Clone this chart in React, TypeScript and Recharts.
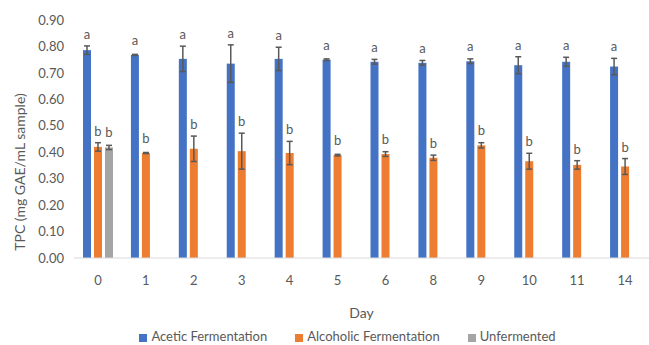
import React from "react"
import { BarChart, Bar, XAxis, YAxis, ErrorBar, Legend } from "recharts"

// TPC over fermentation time, mean ± SD
const days = ["0", "1", "2", "3", "4", "5", "6", "8", "9", "10", "11", "14"]
const acetic = [0.786, 0.768, 0.753, 0.735, 0.753, 0.75, 0.742, 0.738, 0.744, 0.729, 0.742, 0.724]
const aceticSd = [0.016, 0.002, 0.048, 0.071, 0.044, 0.003, 0.009, 0.009, 0.009, 0.032, 0.017, 0.031]
const alcoholic = [0.42, 0.397, 0.413, 0.404, 0.397, 0.389, 0.393, 0.379, 0.426, 0.366, 0.352, 0.346]
const alcoholicSd = [0.016, 0.002, 0.048, 0.068, 0.044, 0.003, 0.009, 0.01, 0.01, 0.03, 0.016, 0.03]
const unfermented = [0.418, null, null, null, null, null, null, null, null, null, null, null]
const unfermentedSd = [0.008, null, null, null, null, null, null, null, null, null, null, null]
const yTicks = [0, 0.1, 0.2, 0.3, 0.4, 0.5, 0.6, 0.7, 0.8, 0.9]

const rows = days.map((day, i) => ({
  day,
  acetic: acetic[i],
  aceticSd: aceticSd[i],
  alcoholic: alcoholic[i],
  alcoholicSd: alcoholicSd[i],
  unfermented: unfermented[i],
  unfermentedSd: unfermentedSd[i],
}))

const TEXT = "#595959"
const FONT = "Lato, 'Liberation Sans', sans-serif"

// bar with its significance letter sitting above the error bar
function letterBar(valueKey: string, sdKey: string, letter: string) {
  return (props: any) => {
    const { x, y, width, height, fill, payload } = props
    const v = payload[valueKey]
    if (v == null || !height) return null
    const pxPerUnit = height / v
    const errTop = y - (payload[sdKey] || 0) * pxPerUnit
    const base = Math.min(errTop - 7, y - 10)
    return (
      <g>
        <rect x={x} y={y} width={width} height={height} fill={fill} />
        <text x={x + width / 2} y={base} textAnchor="middle" fontSize={13} fill={TEXT} fontFamily={FONT}>
          {letter}
        </text>
      </g>
    )
  }
}

const YTitle = () => (
  <text
    x={19}
    y={172}
    transform="rotate(-90, 19, 172)"
    textAnchor="middle"
    dominantBaseline="central"
    fontSize={14}
    fill={TEXT}
    fontFamily={FONT}
  >
    TPC (mg GAE/mL sample)
  </text>
)

export default function App() {
  return (
    <div style={{ position: "absolute", left: 0, top: 0, width: 649, height: 345, background: "#fff", fontFamily: FONT }}>
      <style>{`.recharts-legend-item{margin-right:28px !important}.recharts-legend-item:last-child{margin-right:0 !important}`}</style>
      <BarChart
        width={649}
        height={345}
        data={rows}
        margin={{ top: 20, right: 0, bottom: 0, left: 0 }}
        barSize={8}
        barGap={3}
      >
        <XAxis
          dataKey="day"
          height={62}
          tickLine={false}
          tickSize={0}
          tickMargin={18}
          axisLine={{ stroke: "#D9D9D9" }}
          tick={{ fill: TEXT, fontSize: 13, fontFamily: FONT }}
          label={{ value: "Day", position: "insideBottom", offset: 2, fill: TEXT, fontSize: 14, fontFamily: FONT }}
        />
        <YAxis
          width={74}
          domain={[0, 0.9]}
          ticks={yTicks}
          tickFormatter={(v: number) => v.toFixed(2)}
          axisLine={false}
          tickLine={false}
          tickSize={0}
          tickMargin={10}
          tick={{ fill: TEXT, fontSize: 13, fontFamily: FONT }}
          label={<YTitle />}
        />
        <Legend
          verticalAlign="bottom"
          iconType="square"
          iconSize={8}
          wrapperStyle={{ height: 25, paddingTop: 8, paddingLeft: 46, boxSizing: "border-box", fontSize: 13, lineHeight: "16px" }}
          formatter={(value: string) => <span style={{ color: TEXT }}>{value}</span>}
        />
        <Bar dataKey="acetic" name="Acetic Fermentation" fill="#4472C4" isAnimationActive={false} shape={letterBar("acetic", "aceticSd", "a")}>
          <ErrorBar dataKey="aceticSd" width={3} strokeWidth={1.5} stroke="#595959" direction="y" />
        </Bar>
        <Bar dataKey="alcoholic" name="Alcoholic Fermentation" fill="#ED7D31" isAnimationActive={false} shape={letterBar("alcoholic", "alcoholicSd", "b")}>
          <ErrorBar dataKey="alcoholicSd" width={3} strokeWidth={1.5} stroke="#595959" direction="y" />
        </Bar>
        <Bar dataKey="unfermented" name="Unfermented" fill="#A5A5A5" isAnimationActive={false} shape={letterBar("unfermented", "unfermentedSd", "b")}>
          <ErrorBar dataKey="unfermentedSd" width={3} strokeWidth={1.5} stroke="#595959" direction="y" />
        </Bar>
      </BarChart>
    </div>
  )
}
